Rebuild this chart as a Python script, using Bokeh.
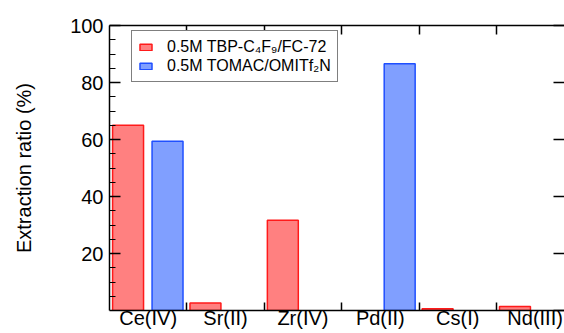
from bokeh.plotting import figure
from bokeh.models import (ColumnDataSource, Range1d, LinearAxis, FixedTicker, Legend, LegendItem)
from bokeh.embed import file_html
from bokeh.resources import INLINE

categories = ["Ce(IV)", "Sr(II)", "Zr(IV)", "Pd(II)", "Cs(I)", "Nd(III)"]
tbp_values = [65.0, 2.6, 31.7, 0.0, 0.6, 1.4]
tomac_values = [59.4, 0.0, 0.0, 86.6, 0.0, 0.0]
series_labels = ["0.5M TBP-C\u2084F\u2089/FC-72", "0.5M TOMAC/OMITf\u2082N"]
y_ticks = [20, 40, 60, 80, 100]

FONT = "Liberation Sans"
n = len(categories)
centers = [i + 0.5 for i in range(n)]
bounds = [float(i) for i in range(1, n + 1)]

p = figure(width=564, height=333, output_backend="svg", toolbar_location=None,
           x_range=Range1d(0, 5.88), y_range=Range1d(0, 100),
           x_axis_location=None, y_axis_location=None,
           min_border_left=109, min_border_top=25, min_border_bottom=23, min_border_right=0)
p.outline_line_color = None
p.grid.visible = False
p.background_fill_color = "white"

def src(vals, off):
    xs = [c + off for c, v in zip(centers, vals) if v > 0]
    ys = [v for v in vals if v > 0]
    return ColumnDataSource(dict(x=xs, top=ys))

r1 = p.vbar(x="x", top="top", width=0.4, bottom=0, source=src(tbp_values, -0.26),
            fill_color="#ff8080", line_color="#ff1a1a", line_width=1.5)
r2 = p.vbar(x="x", top="top", width=0.4, bottom=0, source=src(tomac_values, 0.25),
            fill_color="#809fff", line_color="#1f4fff", line_width=1.5)

# left axis
la = LinearAxis(ticker=FixedTicker(ticks=y_ticks, minor_ticks=list(range(5, 100, 5))),
                axis_label="Extraction ratio (%)")
la.axis_label_text_font = FONT
la.axis_label_text_font_size = "20px"
la.axis_label_text_font_style = "normal"
la.axis_label_text_color = "black"
la.axis_label_standoff = 32
la.major_label_text_font = FONT
la.major_label_text_font_size = "20px"
la.major_label_text_color = "black"
la.major_label_standoff = 6
la.major_tick_in = 11
la.major_tick_out = 0
la.minor_tick_in = 6
la.minor_tick_out = 0
la.axis_line_width = 1.5
la.axis_line_color = "black"
la.major_tick_line_width = 1.5
la.minor_tick_line_width = 1.2
p.add_layout(la, "left")

# right axis (ticks only, as minor ticks so no labels)
ra = LinearAxis(ticker=FixedTicker(ticks=[], minor_ticks=[0] + y_ticks))
ra.minor_tick_in = 11
ra.minor_tick_out = 0
ra.minor_tick_line_width = 1.5
ra.axis_line_alpha = 0
ra.major_label_standoff = 0
p.add_layout(ra, "right")

# bottom axis
ba = LinearAxis(ticker=FixedTicker(ticks=centers, minor_ticks=bounds))
ba.major_label_overrides = {c: lab for c, lab in zip(centers, categories)}
ba.major_label_text_font = FONT
ba.major_label_text_font_size = "20px"
ba.major_label_text_color = "black"
ba.major_label_standoff = -4
ba.major_tick_in = 0
ba.major_tick_out = 0
ba.minor_tick_in = 8
ba.minor_tick_out = 0
ba.axis_line_width = 1.5
ba.axis_line_color = "black"
ba.minor_tick_line_width = 1.5
p.add_layout(ba, "below")

# top axis (ticks only)
ta = LinearAxis(ticker=FixedTicker(ticks=[], minor_ticks=bounds))
ta.major_label_standoff = 0
ta.minor_tick_in = 9
ta.minor_tick_out = 0
ta.axis_line_width = 1.5
ta.axis_line_color = "black"
ta.minor_tick_line_width = 1.5
p.add_layout(ta, "above")

leg = Legend(items=[LegendItem(label=series_labels[0], renderers=[r1]),
                    LegendItem(label=series_labels[1], renderers=[r2])],
             location=(22, 228))
leg.label_text_font = FONT
leg.label_text_font_size = "16px"
leg.label_text_color = "black"
leg.glyph_width = 15
leg.glyph_height = 8
leg.label_standoff = 14
leg.label_height = 19
leg.spacing = 0
leg.padding = 6
leg.margin = 0
leg.border_line_color = "black"
leg.border_line_width = 1.5
leg.background_fill_alpha = 1
p.add_layout(leg, "center")

open("out.html", "w").write(file_html(p, INLINE))
